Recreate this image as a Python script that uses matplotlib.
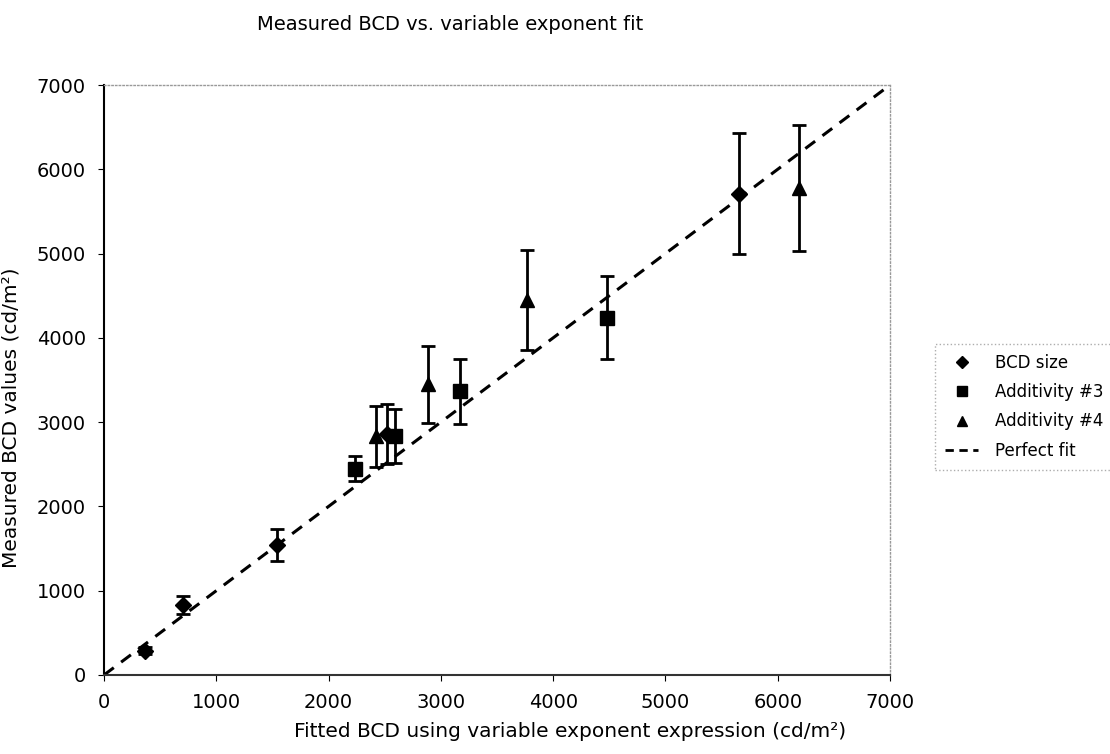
import matplotlib.pyplot as plt
from matplotlib.lines import Line2D

# BCD size (diamonds)
bcd_x   = [365, 700, 1538, 2517, 5654]
bcd_y   = [290, 830, 1545, 2860, 5710]
bcd_err = [40, 108, 190, 355, 720]

# Additivity #3 (squares)
add3_x   = [2235, 2591, 3170, 4476]
add3_y   = [2445, 2835, 3365, 4240]
add3_err = [148, 322, 385, 488]

# Additivity #4 (triangles)
add4_x   = [2422, 2888, 3764, 6189]
add4_y   = [2830, 3450, 4450, 5780]
add4_err = [366, 455, 590, 748]

fit_x = [0, 7000]
fit_y = [0, 7000]

plt.rcParams["font.family"] = "DejaVu Sans"

fig = plt.figure(figsize=(11.1, 7.54), dpi=100)
ax = fig.add_axes([104 / 1110, 1 - 675 / 754, 786 / 1110, 590 / 754])

ebkw = dict(color="black", ecolor="black", elinewidth=2, capsize=5, capthick=2,
            linestyle="none")
ax.errorbar(bcd_x, bcd_y, yerr=bcd_err, marker="D", markersize=8, **ebkw)
ax.errorbar(add3_x, add3_y, yerr=add3_err, marker="s", markersize=10, **ebkw)
ax.errorbar(add4_x, add4_y, yerr=add4_err, marker="^", markersize=10, **ebkw)
ax.plot(fit_x, fit_y, color="black", linestyle=(0, (4, 3)), linewidth=2.2)

ax.set_xlim(0, 7000)
ax.set_ylim(0, 7000)
ax.set_xticks(range(0, 7001, 1000))
ax.set_yticks(range(0, 7001, 1000))
ax.tick_params(labelsize=14, direction="out", length=4, color="black")
ax.tick_params(axis="y", pad=9)
ax.tick_params(axis="x", pad=9)

for side in ("top", "right"):
    ax.spines[side].set_color("#999999")
    ax.spines[side].set_linestyle(":")
    ax.spines[side].set_linewidth(1)
ax.spines["left"].set_color("black")
ax.spines["left"].set_linewidth(1.5)
ax.spines["bottom"].set_color("#333333")
ax.spines["bottom"].set_linewidth(1.5)

ax.set_xlabel("Fitted BCD using variable exponent expression (cd/m²)", fontsize=14.5)
ax.xaxis.set_label_coords((570 - 104) / 786, -(722 - 675) / 590)
ax.set_ylabel("Measured BCD values (cd/m²)", fontsize=14.5)
ax.yaxis.set_label_coords(-(104 - 21) / 786, (675 - 418) / 590)
fig.text(450 / 1110, 1 - 25 / 754, "Measured BCD vs. variable exponent fit",
         fontsize=14, ha="center", va="center")

handles = [
    Line2D([], [], color="black", marker="D", markersize=6, linestyle="none"),
    Line2D([], [], color="black", marker="s", markersize=7, linestyle="none"),
    Line2D([], [], color="black", marker="^", markersize=7, linestyle="none"),
    Line2D([], [], color="black", linestyle=(0, (3, 2)), linewidth=2),
]
labels = ["BCD size", "Additivity #3", "Additivity #4", "Perfect fit"]
leg = fig.legend(handles, labels, loc="upper left",
                 bbox_to_anchor=(935 / 1110, 1 - 344 / 754), fontsize=12,
                 frameon=True, fancybox=False, handlelength=2.0, borderpad=0.6,
                 labelspacing=0.67, handletextpad=1.0, borderaxespad=0)
leg.get_frame().set_edgecolor("#999999")
leg.get_frame().set_linestyle(":")
leg.get_frame().set_linewidth(1)

fig.savefig("out.png", dpi=100)
